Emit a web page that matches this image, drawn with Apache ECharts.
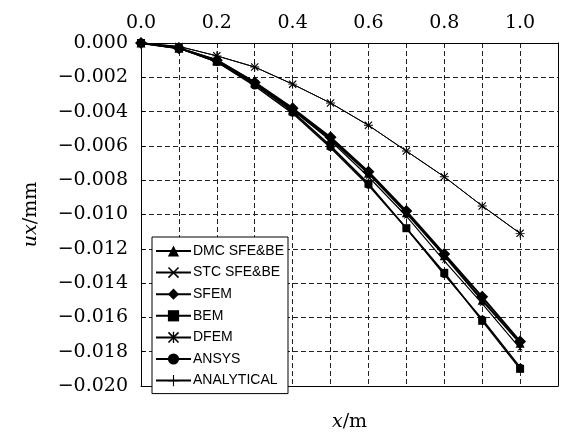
<!DOCTYPE html>
<html>
<head>
<meta charset="utf-8">
<script src="https://cdn.jsdelivr.net/npm/echarts@6/dist/echarts.min.js"></script>
<style>html,body{margin:0;padding:0;background:#fff;}#c{width:562px;height:437px;}</style>
</head>
<body>
<div id="c"></div>
<script>
const xValues = [0, 0.1, 0.2, 0.3, 0.4, 0.5, 0.6, 0.7, 0.8, 0.9, 1.0];
const dmc = [0, -0.0003, -0.0010, -0.0023, -0.0039, -0.0056, -0.0076, -0.0099, -0.0124, -0.0150, -0.0175];
const stc = [0, -0.0002, -0.00075, -0.0014, -0.0024, -0.0035, -0.0048, -0.0063, -0.0078, -0.0095, -0.0111];
const sfem = [0, -0.0003, -0.0010, -0.0023, -0.0038, -0.0055, -0.0075, -0.0098, -0.0123, -0.0148, -0.0174];
const bem = [0, -0.0003, -0.0011, -0.0024, -0.0040, -0.0060, -0.0082, -0.0108, -0.0134, -0.0162, -0.0190];
const dfem = [0, -0.0003, -0.0011, -0.0024, -0.0039, -0.0057, -0.0078, -0.0101, -0.0127, -0.0152, -0.0178];
const ansys = [0, -0.0003, -0.0011, -0.0025, -0.0041, -0.0061, -0.0083, -0.0108, -0.0135, -0.0161, -0.0189];
const analytical = [0, -0.0002, -0.00075, -0.0014, -0.0024, -0.0035, -0.0048, -0.0063, -0.0078, -0.0095, -0.0111];

const X_PATH = 'path://M0,1L1,0L5,4L9,0L10,1L6,5L10,9L9,10L5,6L1,10L0,9L4,5Z';
const PLUS_PATH = 'path://M4.5,0H5.5V4.5H10V5.5H5.5V10H4.5V5.5H0V4.5H4.5Z';
const AST_PATH = 'path://M0,1L1,0L5,4L9,0L10,1L6,5L10,9L9,10L5,6L1,10L0,9L4,5Z M4.4,0H5.6V10H4.4Z';

function pts(arr){ return xValues.map((x,i)=>[x, arr[i]]); }

function mk(name, arr, symbol, size, width){
  return {
    name: name, type: 'line', data: pts(arr), symbol: symbol, symbolSize: size,
    clip: false, showSymbol: true,
    lineStyle: {color: '#000', width: width},
    itemStyle: {color: '#000'},
    emphasis: {disabled: true},
    animation: false
  };
}

const serif = 'DejaVu Serif';
const FS = 19;
const grid = {left: 141, top: 43, right: 4, bottom: 45};
const dashed = {show: true, lineStyle: {color: '#222', type: [5, 3], width: 1}};

const chart = echarts.init(document.getElementById('c'), null, {renderer: 'canvas'});
chart.setOption({
  backgroundColor: '#fff',
  animation: false,
  grid: grid,
  legend: {
    orient: 'vertical', left: 152, top: 237,
    itemWidth: 35, itemHeight: 14, itemGap: 7.6,
    padding: [7, 4, 6, 3],
    backgroundColor: '#fff',
    borderColor: '#000', borderWidth: 1,
    textStyle: {fontFamily: 'Liberation Sans', fontSize: 14, color: '#000', padding: [0,0,0,-3]},
    data: ['DMC SFE&BE', 'STC SFE&BE', 'SFEM', 'BEM', 'DFEM', 'ANSYS', 'ANALYTICAL'],
    selectedMode: false
  },
  xAxis: [{
    type: 'value', position: 'top', min: 0, max: 1.1, interval: 0.1,
    axisLine: {show: true, onZero: false, lineStyle: {color: '#000', width: 1}},
    axisTick: {show: false},
    splitLine: dashed,
    axisLabel: {
      fontFamily: serif, fontSize: FS, color: '#000', margin: 10,
      formatter: v => (Math.round(v*10) % 2 === 0 && v < 1.05) ? v.toFixed(1) : ''
    }
  }, {
    type: 'value', position: 'bottom', min: 0, max: 1.1, interval: 0.1,
    axisLine: {show: true, onZero: false, lineStyle: {color: '#000', width: 1}},
    axisTick: {show: false}, axisLabel: {show: false}, splitLine: {show: false},
    name: '{i|x}/m', nameLocation: 'middle', nameGap: 27,
    nameTextStyle: {fontFamily: serif, fontSize: FS, color: '#000',
      rich: {i: {fontFamily: serif, fontStyle: 'italic', fontSize: FS, color: '#000'}}}
  }],
  yAxis: [{
    type: 'value', position: 'left', min: -0.02, max: 0, interval: 0.002,
    axisLine: {show: true, onZero: false, lineStyle: {color: '#000', width: 1}},
    axisTick: {show: true, inside: true, length: 4, lineStyle: {color: '#000'}},
    splitLine: dashed,
    axisLabel: {
      fontFamily: serif, fontSize: FS, color: '#000', margin: 13,
      formatter: v => (v < -1e-9 ? '\u2212' : '') + Math.abs(v).toFixed(3)
    },
    name: '{i|ux}/mm', nameLocation: 'middle', nameGap: 100,
    nameTextStyle: {fontFamily: serif, fontSize: FS, color: '#000',
      rich: {i: {fontFamily: serif, fontStyle: 'italic', fontSize: FS, color: '#000'}}}
  }, {
    type: 'value', position: 'right', min: -0.02, max: 0, interval: 0.002,
    axisLine: {show: true, onZero: false, lineStyle: {color: '#000', width: 1}},
    axisTick: {show: false}, axisLabel: {show: false}, splitLine: {show: false}
  }],
  series: [
    mk('STC SFE&BE', stc, X_PATH, 8, 1),
    mk('ANALYTICAL', analytical, PLUS_PATH, 9, 1),
    mk('DFEM', dfem, AST_PATH, 5, 1.2),
    mk('BEM', bem, 'rect', 8, 1.5),
    mk('ANSYS', ansys, 'circle', 7, 1.5),
    mk('DMC SFE&BE', dmc, 'triangle', 9, 2),
    mk('SFEM', sfem, 'diamond', 12, 2)
  ]
});
</script>
</body>
</html>
